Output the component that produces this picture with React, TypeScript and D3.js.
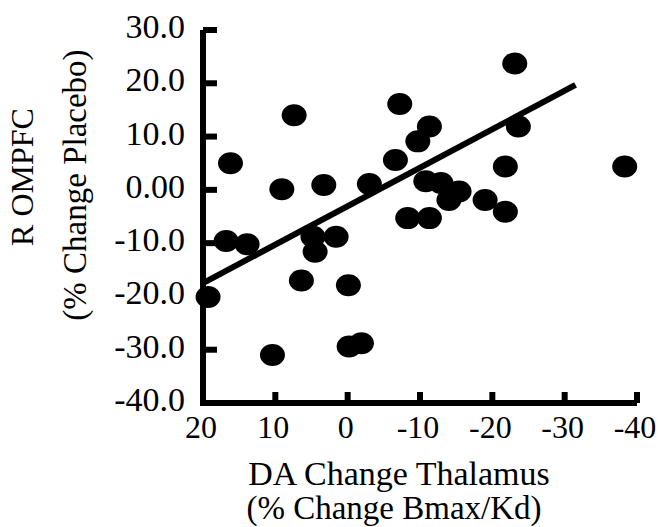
import { useEffect, useRef } from 'react';
import * as d3 from 'd3';

// DA change thalamus (x) vs R OMPFC change (y)
const daChange = [
    -23.1, 7.4, -7.2, -11.3, -9.7, -23.6, 16.2, -6.6, -21.8, -38.3,
    9.1, 3.3, -3.0, -10.8, -12.9, -15.4, -14.0, -19.0, -21.8, -8.3,
    -11.3, 16.8, 13.9, 4.8, 1.6, 4.5, 6.4, -0.1, 19.3, 10.4, -0.2, -1.9,
];
const ompfcChange = [
    23.7, 14.0, 16.1, 11.9, 9.1, 11.9, 5.0, 5.6, 4.4, 4.4,
    0.1, 0.9, 1.1, 1.6, 1.3, -0.3, -1.9, -1.9, -4.1, -5.3,
    -5.3, -9.6, -10.2, -8.8, -8.8, -11.6, -17.0, -17.9, -20.1, -31.0, -29.4, -28.8,
];

const xTicks = [20, 10, 0, -10, -20, -30, -40];
const yTicks = [30, 20, 10, 0, -10, -20, -30, -40];
const yTickLabels = ['30.0', '20.0', '10.0', '0.00', '-10.0', '-20.0', '-30.0', '-40.0'];

// regression line
const fitSlope = -0.722;
const fitIntercept = -3.06;
const fitRange = [20, -31.5];

export default function App() {
    const svgRef = useRef<SVGSVGElement>(null);

    useEffect(() => {
        if (!svgRef.current) return;
        const svg = d3.select(svgRef.current);
        svg.selectAll('*').remove();

        const width = 659;
        const height = 527;
        const font = '"Liberation Serif", "Times New Roman", serif';

        svg.attr('width', width).attr('height', height);

        const x = d3.scaleLinear().domain([20, -40]).range([203, 637]);
        const y = d3.scaleLinear().domain([-40, 30]).range([403, 30]);

        // dots
        svg.append('g')
            .selectAll('ellipse')
            .data(daChange.map((d, i) => [d, ompfcChange[i]]))
            .join('ellipse')
            .attr('cx', (d) => x(d[0]))
            .attr('cy', (d) => y(d[1]))
            .attr('rx', 12.5)
            .attr('ry', 11)
            .attr('fill', '#000');

        // fit line
        const line = d3.line<number>()
            .x((d) => x(d))
            .y((d) => y(fitIntercept + fitSlope * d));
        svg.append('path')
            .attr('d', line(fitRange))
            .attr('stroke', '#000')
            .attr('stroke-width', 6)
            .attr('fill', 'none');

        // axes
        const axes = svg.append('g').attr('stroke', '#000').attr('stroke-width', 6);
        axes.append('path')
            .attr('fill', 'none')
            .attr('d', `M${x(20)},${y(30)}V${y(-40)}H${x(-40)}`);

        axes.selectAll('.yt')
            .data(yTicks)
            .join('line')
            .attr('x1', x(20))
            .attr('x2', x(20) + 14)
            .attr('y1', (d) => y(d))
            .attr('y2', (d) => y(d));

        axes.selectAll('.xt')
            .data(xTicks)
            .join('line')
            .attr('x1', (d) => x(d))
            .attr('x2', (d) => x(d))
            .attr('y1', y(-40))
            .attr('y2', y(-40) - 11);

        // tick labels
        svg.append('g')
            .selectAll('text')
            .data(yTicks)
            .join('text')
            .attr('x', 185)
            .attr('y', (d) => y(d) + 8)
            .attr('text-anchor', 'end')
            .attr('font-family', font)
            .attr('font-size', 34)
            .text((d, i) => yTickLabels[i]);

        svg.append('g')
            .selectAll('text')
            .data(xTicks)
            .join('text')
            .attr('x', (d) => x(d) - 2)
            .attr('y', 438)
            .attr('text-anchor', 'middle')
            .attr('font-family', font)
            .attr('font-size', 32)
            .text((d) => String(d));

        // axis titles
        svg.append('text')
            .attr('x', 399)
            .attr('y', 485)
            .attr('text-anchor', 'middle')
            .attr('font-family', font)
            .attr('font-size', 34)
            .text('DA Change Thalamus');
        svg.append('text')
            .attr('x', 394)
            .attr('y', 519)
            .attr('text-anchor', 'middle')
            .attr('font-family', font)
            .attr('font-size', 33)
            .text('(% Change Bmax/Kd)');

        svg.append('text')
            .attr('transform', 'translate(33,177) rotate(-90)')
            .attr('text-anchor', 'middle')
            .attr('font-family', font)
            .attr('font-size', 32)
            .text('R OMPFC');
        svg.append('text')
            .attr('transform', 'translate(86,185) rotate(-90)')
            .attr('text-anchor', 'middle')
            .attr('font-family', font)
            .attr('font-size', 33)
            .text('(% Change Placebo)');
    }, []);

    return (
        <svg
            ref={svgRef}
            style={{ position: 'absolute', left: 0, top: 0, background: '#fff' }}
        ></svg>
    );
}
